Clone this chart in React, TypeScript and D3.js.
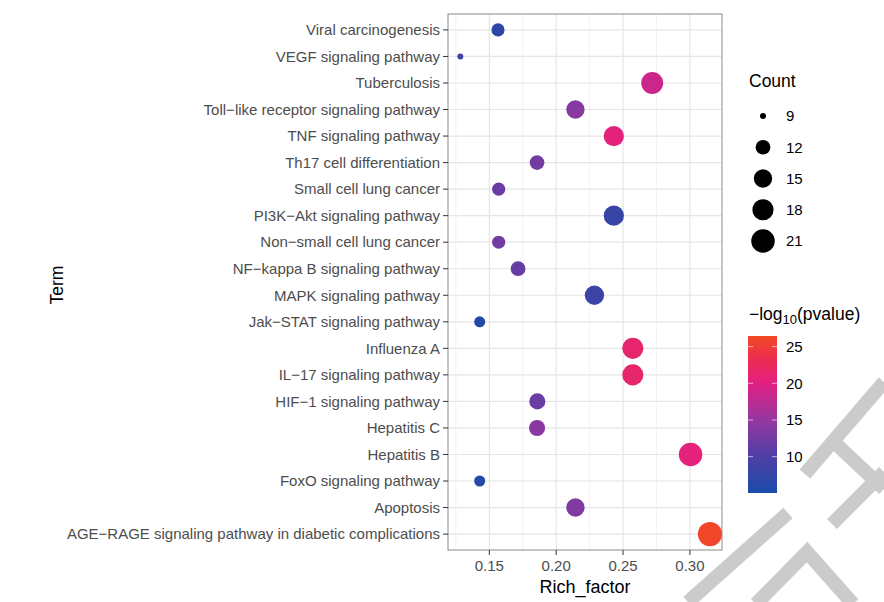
import React from "react";
import * as d3 from "d3";

// KEGG enrichment terms, top to bottom
const terms = [
  "Viral carcinogenesis",
  "VEGF signaling pathway",
  "Tuberculosis",
  "Toll−like receptor signaling pathway",
  "TNF signaling pathway",
  "Th17 cell differentiation",
  "Small cell lung cancer",
  "PI3K−Akt signaling pathway",
  "Non−small cell lung cancer",
  "NF−kappa B signaling pathway",
  "MAPK signaling pathway",
  "Jak−STAT signaling pathway",
  "Influenza A",
  "IL−17 signaling pathway",
  "HIF−1 signaling pathway",
  "Hepatitis C",
  "Hepatitis B",
  "FoxO signaling pathway",
  "Apoptosis",
  "AGE−RAGE signaling pathway in diabetic complications",
];
const richFactor = [
  0.1565, 0.1283, 0.2718, 0.2144, 0.2431, 0.1857, 0.157, 0.2431, 0.157, 0.1715,
  0.2286, 0.1428, 0.2573, 0.2573, 0.1859, 0.1857, 0.3005, 0.1428, 0.2144, 0.315,
];
const geneCount = [11, 9, 19, 15, 17, 12, 11, 17, 11, 12, 16, 10, 18, 18, 13, 13, 21, 10, 15, 22];
const negLogP = [7, 9, 18.5, 14, 20.5, 12.5, 12, 8, 12.5, 11.5, 8.5, 6, 21.5, 21.5, 12, 14, 20.5, 6, 13.5, 26];

const xTicks = [0.15, 0.2, 0.25, 0.3];
const xMinor = [0.125, 0.175, 0.225, 0.275];
const countBreaks = [9, 12, 15, 18, 21];
const pBreaks = [10, 15, 20, 25];

const FONT = "'Liberation Sans', Arial, Helvetica, sans-serif";
const PANEL = { left: 448, right: 722, top: 14, bottom: 550 };
const BAR = { x: 748, w: 29, top: 336, bottom: 493 };

export default function App() {
  const x = d3.scaleLinear().domain([0.1191, 0.324]).range([PANEL.left, PANEL.right]);
  const y = d3.scalePoint<string>().domain(terms).range([PANEL.top, PANEL.bottom]).padding(0.6);
  const r = d3.scaleSqrt().domain([0, 13]).range([3, 12.1]);
  const size = (c: number) => r(c - 9);
  const pDomain = [5.05, 10, 15, 20, 23, 26.45];
  const color = d3
    .scaleLinear<string>()
    .domain(pDomain)
    .range(["#1a4ca8", "#4e3fa6", "#9538a0", "#e21f82", "#ec2a55", "#f24a22"])
    .interpolate(d3.interpolateRgb);
  const barY = d3.scaleLinear().domain([5.05, 26.45]).range([BAR.bottom, BAR.top]);

  const rows = terms.map((t, i) => ({ t, rf: richFactor[i], n: geneCount[i], p: negLogP[i] }));
  const countY = d3.scaleLinear().domain([9, 21]).range([116, 241]);

  return (
    <svg
      width={884}
      height={602}
      style={{ position: "absolute", left: 0, top: 0, background: "#fff" }}
      fontFamily={FONT}
    >
      <defs>
        <linearGradient id="pgrad" x1="0" y1="1" x2="0" y2="0">
          {d3.range(0, 1.0001, 0.05).map((f) => (
            <stop key={f} offset={f} stopColor={color(5.05 + f * (26.45 - 5.05))} />
          ))}
        </linearGradient>
      </defs>

      {/* watermark */}
      <g stroke="#cbcbcb" strokeWidth={14} fill="none">
        <path d="M805,474L884,382" />
        <path d="M836,444L884,489" />
        <path d="M832,524L884,472" />
        <path d="M688,602L788,513" />
        <path d="M756,604L807,552L853,604" />
      </g>

      {/* panel grid */}
      <rect x={PANEL.left} y={PANEL.top} width={PANEL.right - PANEL.left} height={PANEL.bottom - PANEL.top} fill="#fff" />
      {xMinor.map((v) => (
        <line key={v} x1={x(v)} x2={x(v)} y1={PANEL.top} y2={PANEL.bottom} stroke="#f0f0f0" strokeWidth={0.8} />
      ))}
      {xTicks.map((v) => (
        <line key={v} x1={x(v)} x2={x(v)} y1={PANEL.top} y2={PANEL.bottom} stroke="#e6e6e6" strokeWidth={1.2} />
      ))}
      {terms.map((t) => (
        <line key={t} x1={PANEL.left} x2={PANEL.right} y1={y(t)} y2={y(t)} stroke="#e6e6e6" strokeWidth={1.2} />
      ))}

      {/* points */}
      {rows.map((d) => (
        <circle key={d.t} cx={x(d.rf)} cy={y(d.t)} r={size(d.n)} fill={color(d.p)} />
      ))}

      <rect
        x={PANEL.left}
        y={PANEL.top}
        width={PANEL.right - PANEL.left}
        height={PANEL.bottom - PANEL.top}
        fill="none"
        stroke="#8a8a8a"
        strokeWidth={1}
      />

      {/* y axis */}
      {terms.map((t) => (
        <g key={t} transform={`translate(0,${y(t)})`}>
          <line x1={PANEL.left - 5} x2={PANEL.left} stroke="#333" strokeWidth={1} />
          <text x={PANEL.left - 8} dy="0.35em" textAnchor="end" fontSize={15} fill="#4d4d4d">
            {t}
          </text>
        </g>
      ))}
      <text transform="translate(63,285) rotate(-90)" textAnchor="middle" fontSize={17.5} fill="#000">
        Term
      </text>

      {/* x axis */}
      {xTicks.map((v) => (
        <g key={v} transform={`translate(${x(v)},${PANEL.bottom})`}>
          <line y1={0} y2={5} stroke="#333" strokeWidth={1} />
          <text y={20.5} textAnchor="middle" fontSize={15} fill="#4d4d4d">
            {d3.format(".2f")(v)}
          </text>
        </g>
      ))}
      <text x={(PANEL.left + PANEL.right) / 2} y={593} textAnchor="middle" fontSize={18} fill="#000">
        Rich_factor
      </text>

      {/* size legend */}
      <text x={749} y={87} fontSize={17.5} fill="#000">
        Count
      </text>
      {countBreaks.map((c) => (
        <g key={c} transform={`translate(0,${countY(c)})`}>
          <circle cx={763} cy={0} r={size(c)} fill="#000" />
          <text x={786} dy="0.35em" fontSize={15} fill="#000">
            {c}
          </text>
        </g>
      ))}

      {/* colour legend */}
      <text x={749} y={320} fontSize={17.5} fill="#000">
        −log
        <tspan fontSize={13} dy={4}>
          10
        </tspan>
        <tspan dy={-4}>(pvalue)</tspan>
      </text>
      <rect x={BAR.x} y={BAR.top} width={BAR.w} height={BAR.bottom - BAR.top} fill="url(#pgrad)" />
      {pBreaks.map((v) => (
        <g key={v} transform={`translate(0,${barY(v)})`}>
          <line x1={BAR.x} x2={BAR.x + 5} stroke="#fff" strokeOpacity={0.6} />
          <line x1={BAR.x + BAR.w - 5} x2={BAR.x + BAR.w} stroke="#fff" strokeOpacity={0.6} />
          <text x={786} dy="0.35em" fontSize={15} fill="#000">
            {v}
          </text>
        </g>
      ))}
    </svg>
  );
}
